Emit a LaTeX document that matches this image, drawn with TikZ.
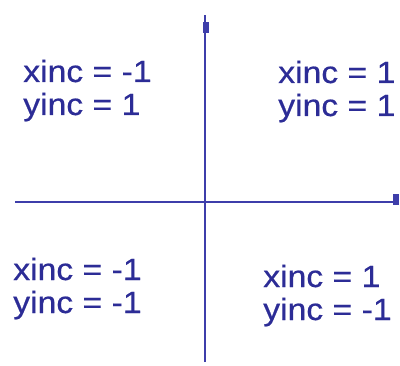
\documentclass[tikz,border=0pt]{standalone}
\usepackage{fontspec}
\setmainfont{Liberation Sans}[FakeStretch=1.1,FakeBold=0.6]
\usepackage{tikz}
\usetikzlibrary{arrows.meta}
\definecolor{axisblue}{RGB}{62,62,170}
\definecolor{textblue}{RGB}{44,44,150}

\begin{document}
\begin{tikzpicture}[x=0.75pt,y=0.75pt,
    inc/.style={anchor=base west,inner sep=0pt,text=textblue,font=\fontsize{23}{28}\selectfont}]
    \useasboundingbox (0,0) rectangle (400,365);
    % axes
    \draw[axisblue,line width=2.2pt] (15,163) -- (399,163);
    \draw[axisblue,line width=2.2pt] (205,3) -- (205,350);
    % end marks
    \fill[axisblue] (203,332) rectangle (209,343);
    \fill[axisblue] (393,160) rectangle (399,171);
    % quadrant labels
    \node[inc] (xtl) at (23,283) {xinc = -1};
    \node[inc] (ytl) at (23,250) {yinc = 1};
    \node[inc] (xtr) at (278,282) {xinc = 1};
    \node[inc] (ytr) at (278,249) {yinc = 1};
    \node[inc] (xbl) at (13,85) {xinc = -1};
    \node[inc] (ybl) at (13,52) {yinc = -1};
    \node[inc] (xbr) at (263,78) {xinc = 1};
    \node[inc] (ybr) at (263,45) {yinc = -1};
\end{tikzpicture}
\end{document}
